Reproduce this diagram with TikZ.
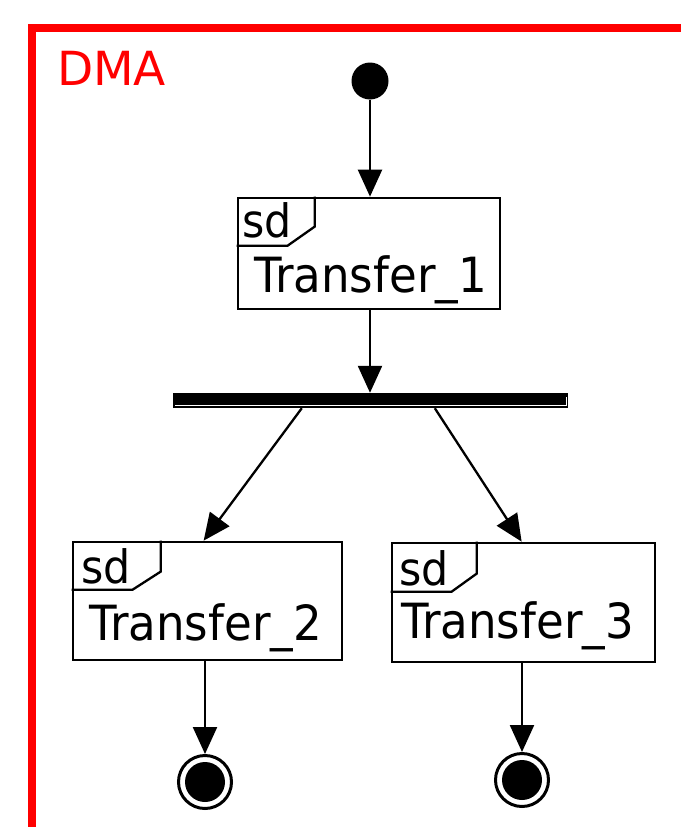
\documentclass[tikz,border=0pt]{standalone}
\usepackage{fontspec}
\setmainfont{DejaVu Sans}
\newfontfamily\boxfont[FakeStretch=0.93]{DejaVu Sans}
\usetikzlibrary{arrows.meta,calc}

\tikzset{
  flow/.style={line width=2.3pt, -{Triangle[length=27pt,width=24pt]}},
  actbox/.style={draw, line width=2.7pt, rectangle, inner sep=0pt},
  tabline/.style={line width=2.3pt},
  initial/.style={circle, fill=black, inner sep=0pt, minimum size=37pt},
  final/.style={circle, draw, line width=3pt, inner sep=0pt, minimum size=53pt,
    path picture={\fill[black] (path picture bounding box.center) circle (20pt);}},
  forkbar/.style={rectangle, fill=black, inner sep=0pt, minimum width=395pt, minimum height=15pt},
  bigtext/.style={font=\boxfont\fontsize{48.5}{48.5}\selectfont, inner sep=0pt, anchor=base west},
  tabtext/.style={font=\boxfont\fontsize{46}{46}\selectfont, inner sep=0pt, anchor=base west},
}

\begin{document}
\begin{tikzpicture}[x=1pt, y=-1pt]
  \useasboundingbox (0,0) rectangle (681,827);

  % swimlane frame
  \draw[red, line width=8pt] (32,827) -- (32,28) -- (681,28);
  \node[inner sep=0pt, anchor=base west, text=red, font=\fontsize{47}{47}\selectfont] (lane) at (57,85) {DMA};

  % initial state
  \node[initial] (init) at (370,81) {};

  % activity Transfer_1
  \node[actbox, minimum width=262pt, minimum height=111pt] (t1) at (369,253.5) {};
  \draw[tabline] ($(t1.north west)+(0,49)$) -- ++(51,0) -- ++(27,-19) -- ++(0,-30);
  \node[tabtext] (t1sd) at (242,237) {sd};
  \node[bigtext] (t1name) at (254,292) {Transfer\_1};

  % fork bar
  \node[forkbar] (fork) at (370.5,400.5) {};
  \draw[white, line width=1pt] ($(fork.south west)+(2,-3)$) -- ($(fork.south east)+(-2,-3)$) -- ++(0,-8);

  % activity Transfer_2
  \node[actbox, minimum width=269pt, minimum height=118pt] (t2) at (207.5,601) {};
  \draw[tabline] ($(t2.north west)+(0,49)$) -- ++(61,0) -- ++(28,-18) -- ++(0,-31);
  \node[tabtext] (t2sd) at (81,583) {sd};
  \node[bigtext] (t2name) at (89,640) {Transfer\_2};

  % activity Transfer_3
  \node[actbox, minimum width=263pt, minimum height=119pt] (t3) at (523.5,602.5) {};
  \draw[tabline] ($(t3.north west)+(0,50)$) -- ++(61,0) -- ++(25,-18) -- ++(0,-32);
  \node[tabtext] (t3sd) at (399,585) {sd};
  \node[bigtext] (t3name) at (401,638) {Transfer\_3};

  % final states
  \node[final] (e1) at (205,782) {};
  \node[final] (e2) at (522,780) {};

  % control flows
  \draw[flow] (init) -- (init |- t1.north);
  \draw[flow] (t1.south -| init) -- (fork.north -| init);
  \draw[flow] ($(fork.south west)+(129,0)$) -- ($(t2.north west)+(132,0)$);
  \draw[flow] ($(fork.south west)+(262,0)$) -- ($(t3.north west)+(131,0)$);
  \draw[flow] (t2.south -| e1) -- (e1.north);
  \draw[flow] (t3.south -| e2) -- (e2.north);
\end{tikzpicture}
\end{document}
